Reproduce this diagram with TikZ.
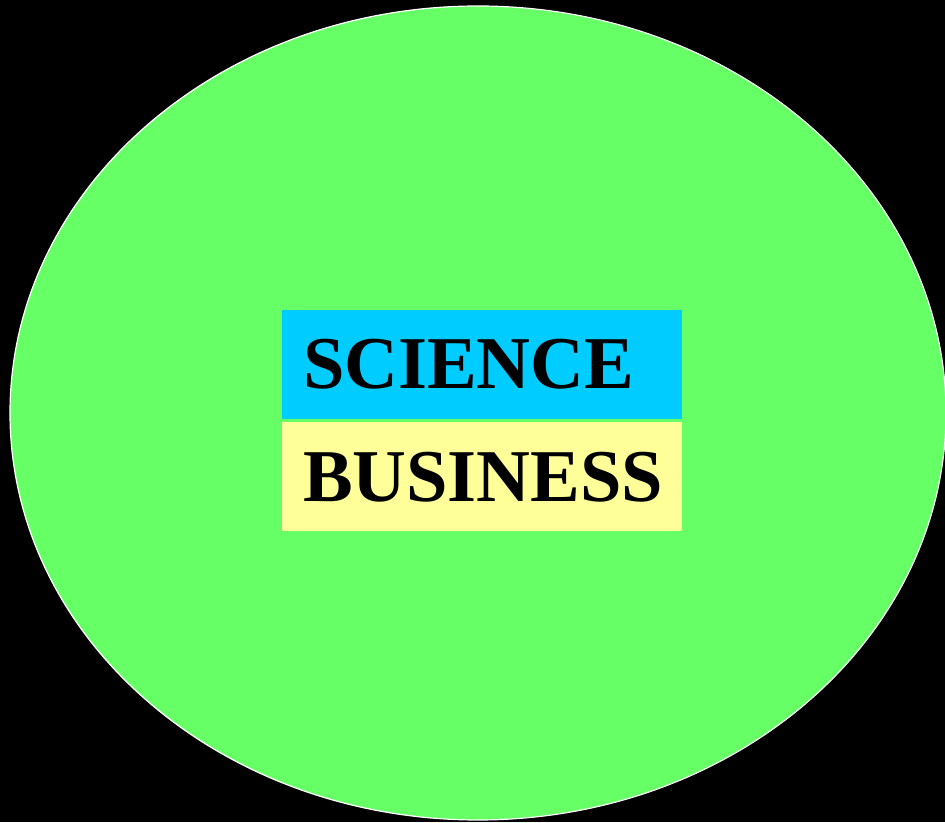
\documentclass[tikz,border=0pt]{standalone}
\usepackage{fontspec}
\setmainfont{Liberation Serif}
\usetikzlibrary{positioning}
\definecolor{oval}{RGB}{102,255,102}
\definecolor{sciblue}{RGB}{0,204,255}
\definecolor{busyellow}{RGB}{255,255,153}
\begin{document}
\begin{tikzpicture}[x=1pt,y=1pt]
  \tikzstyle{band} = [rectangle, minimum width=400pt, minimum height=109pt, text width=358pt, inner xsep=21pt, align=left, font=\fontsize{74.5}{74.5}\selectfont\bfseries]

  \fill[black] (0,0) rectangle (945,822);
  \useasboundingbox (0,0) rectangle (945,822);
  \draw[white, fill=oval, line width=1.2pt] (478,409) ellipse [x radius=468, y radius=407];

  \node (science) [band, fill=sciblue] at (482,457.5) {SCIENCE};
  \node (business) [band, fill=busyellow, below=3pt of science] {BUSINESS};
\end{tikzpicture}
\end{document}
